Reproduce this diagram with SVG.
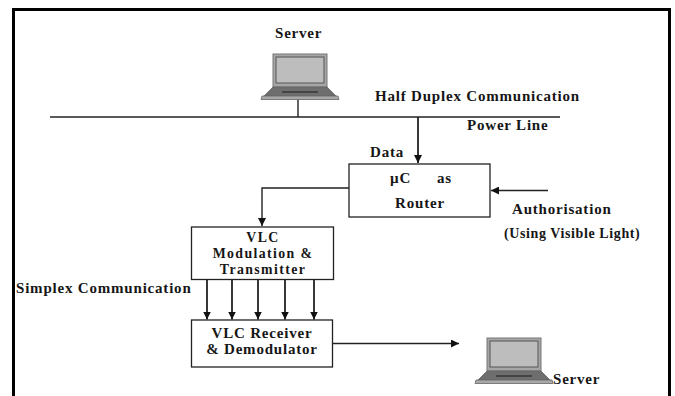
<svg xmlns="http://www.w3.org/2000/svg" width="675" height="396" viewBox="0 0 675 396">
<style>
text{font-family:"Liberation Serif","Times New Roman",serif;font-weight:bold;font-size:15px;letter-spacing:.8px;fill:#161616}
.m{text-anchor:middle}
.t{font-size:13.800px;letter-spacing:1.400px}
.box{fill:#fff;stroke:#222;stroke-width:1.3}
.ln{fill:none;stroke:#222;stroke-width:1.4}
.thick{fill:none;stroke:#222;stroke-width:1.8}
</style>
<defs>
<marker id="ah" markerUnits="userSpaceOnUse" markerWidth="9" markerHeight="8" refX="8" refY="4" orient="auto"><path d="M0 0L8 4L0 8Z" fill="#111"/></marker>
<g id="laptop">
<rect x="0" y="0" width="54" height="33" fill="#a6a6a6" stroke="#777" stroke-width="1"/>
<rect x="3" y="3" width="48" height="26" fill="#bdbdbd" stroke="#555" stroke-width="1"/>
<path d="M0 33H54L63 42H-9Z" fill="#6e6e6e" stroke="#666" stroke-width=".8"/>
<rect x="9" y="37" width="36" height="2" fill="#444"/>
<path d="M-11 42H65L66 45.500H-12Z" fill="#a8a8a8" stroke="#666" stroke-width=".8"/>
</g>
</defs>
<rect width="675" height="396" fill="#fff"/>
<path d="M13.500 396V9.500H669.500V396" fill="none" stroke="#000" stroke-width="3"/>
<g id="connectors">
<path class="ln" d="M50 117H560" stroke="#444"/>
<path class="ln" d="M298 95V117"/>
<path class="thick" d="M418 117V163" marker-end="url(#ah)"/>
<path class="ln" d="M349 188H262V226" marker-end="url(#ah)"/>
<path class="ln" d="M548 190.500H491" marker-end="url(#ah)"/>
<path class="thick" d="M207 280V319.500" marker-end="url(#ah)"/>
<path class="thick" d="M232 280V319.500" marker-end="url(#ah)"/>
<path class="thick" d="M258 280V319.500" marker-end="url(#ah)"/>
<path class="thick" d="M285 280V319.500" marker-end="url(#ah)"/>
<path class="thick" d="M314 280V319.500" marker-end="url(#ah)"/>
<path class="ln" d="M333 343.500H459" marker-end="url(#ah)"/>
</g>
<g id="server-top"><text x="275" y="38">Server</text><use href="#laptop" x="273" y="54"/></g>
<g id="server-bottom"><use href="#laptop" x="487" y="338"/><text x="553" y="384">Server</text></g>
<g id="router"><rect class="box" x="349" y="164" width="141" height="53"/><text x="390" y="183">µC</text><text x="437" y="183">as</text><text class="m" x="420" y="208">Router</text></g>
<g id="transmitter"><rect class="box" x="191.500" y="227" width="142" height="52.500"/><text class="m t" x="263" y="242">VLC</text><text class="m t" x="263" y="258">Modulation &amp;</text><text class="m t" x="263" y="274">Transmitter</text></g>
<g id="receiver"><rect class="box" x="191.500" y="320" width="141" height="47"/><text class="m" x="262" y="338">VLC Receiver</text><text class="m" x="262" y="354">&amp; Demodulator</text></g>
<g id="labels">
<text x="375" y="101">Half Duplex Communication</text>
<text x="467" y="130">Power Line</text>
<text x="370" y="157">Data</text>
<text x="512" y="214">Authorisation</text>
<text x="504" y="238" style="font-size:14px;letter-spacing:.6px">(Using Visible Light)</text>
<text x="16" y="293">Simplex Communication</text>
</g>
</svg>
